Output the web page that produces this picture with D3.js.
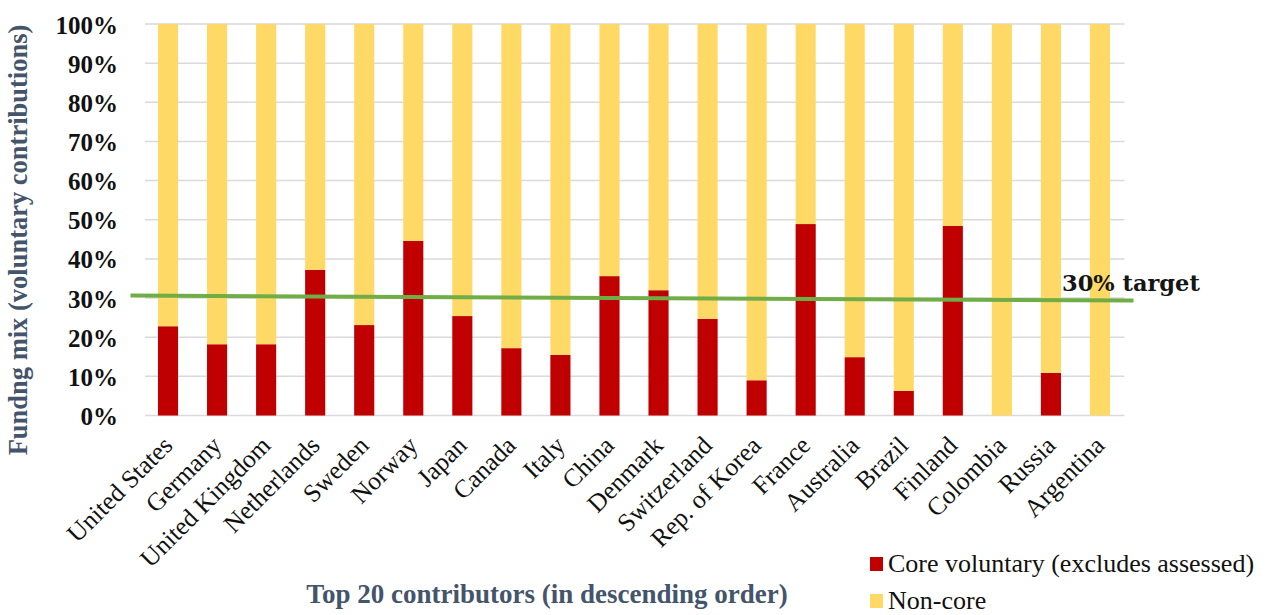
<!DOCTYPE html>
<html>
<head>
<meta charset="utf-8">
<script src="https://cdn.jsdelivr.net/npm/d3@7"></script>
<style>
  html, body { margin: 0; padding: 0; background: #fff; }
  svg { display: block; }
</style>
</head>
<body>
<svg id="chart" width="1266" height="615"></svg>
<script>
// Top 20 contributors, in descending order of total voluntary contributions
const countries = ["United States", "Germany", "United Kingdom", "Netherlands", "Sweden",
  "Norway", "Japan", "Canada", "Italy", "China", "Denmark", "Switzerland",
  "Rep. of Korea", "France", "Australia", "Brazil", "Finland", "Colombia", "Russia", "Argentina"];

// Share of core voluntary funding (%), remainder is non-core
const coreShare = [22.8, 18.2, 18.2, 37.2, 23.1, 44.6, 25.4, 17.2, 15.5, 35.6,
  32.0, 24.7, 9.0, 48.9, 14.9, 6.3, 48.4, 0, 10.9, 0];
const nonCoreShare = coreShare.map(v => 100 - v);

const yTicks = [0, 10, 20, 30, 40, 50, 60, 70, 80, 90, 100];
const target = 30;

const seriesNames = ["Core voluntary (excludes assessed)", "Non-core"];
const seriesColors = ["#C00000", "#FFD966"];

const SERIF = '"Liberation Serif", "Times New Roman", serif';

const svg = d3.select("#chart");

const x = d3.scaleBand().domain(countries).range([143.5, 1124.5]).paddingInner(0.59).paddingOuter(0.295);
const y = d3.scaleLinear().domain([0, 100]).range([415.5, 24]);

// gridlines
svg.append("g")
  .selectAll("line").data(yTicks).join("line")
  .attr("x1", 145).attr("x2", 1124.5)
  .attr("y1", d => y(d)).attr("y2", d => y(d))
  .attr("stroke", "#D9D9DE").attr("stroke-width", 1.5);

// y tick labels
const yAxis = d3.axisLeft(y).tickValues(yTicks).tickFormat(d => d + "%").tickSize(0).tickPadding(0);
const yg = svg.append("g").attr("transform", "translate(118,0)").call(yAxis);
yg.select(".domain").remove();
yg.selectAll("text")
  .style("font-family", SERIF)
  .style("font-size", "25px").style("font-weight", "bold").attr("fill", "#111")
  .attr("dy", "0.36em");

// stacked bars
const rows = countries.map((c, i) => ({ country: c, core: coreShare[i], noncore: nonCoreShare[i] }));
const stacked = d3.stack().keys(["core", "noncore"])(rows);

svg.append("g").selectAll("g").data(stacked).join("g")
  .attr("fill", (d, i) => seriesColors[i])
  .selectAll("rect").data(d => d).join("rect")
  .attr("x", d => x(d.data.country))
  .attr("width", x.bandwidth())
  .attr("y", d => y(d[1]))
  .attr("height", d => Math.max(0, y(d[0]) - y(d[1])));

// x labels, rotated 45 degrees
const xAxis = d3.axisBottom(x).tickSize(0).tickPadding(0);
const xg = svg.append("g").call(xAxis);
xg.select(".domain").remove();
xg.selectAll(".tick text")
  .style("font-family", SERIF)
  .style("font-size", "25.5px").attr("fill", "#111")
  .attr("text-anchor", "end")
  .attr("y", 0).attr("dy", 0)
  .attr("transform", "translate(6,447) rotate(-45)");

// 30% target line
const [r0, r1] = x.range();
const tgt = svg.append("g");
tgt.append("line")
  .attr("x1", r0 - 13).attr("x2", r1 + 9)
  .attr("y1", y(target)).attr("y2", y(target))
  .attr("stroke", "#70AD47").attr("stroke-width", 4)
  .attr("transform", `rotate(0.29, ${(r0 + r1) / 2}, ${y(target)})`);
tgt.append("text")
  .attr("x", 1062).attr("y", 291)
  .style("font-family", '"DejaVu Serif", serif').style("font-weight", "bold")
  .style("font-size", "22.5px").attr("fill", "#151515")
  .text(target + "% target");

// axis titles
svg.append("text")
  .attr("transform", "translate(27,240) rotate(-90)")
  .attr("text-anchor", "middle")
  .style("font-family", SERIF)
  .style("font-size", "26.5px").style("font-weight", "bold").attr("fill", "#44546A")
  .text("Fundng mix (voluntary contributions)");

svg.append("text")
  .attr("x", 547).attr("y", 603)
  .attr("text-anchor", "middle")
  .style("font-family", SERIF)
  .style("font-size", "27px").style("font-weight", "bold").attr("fill", "#44546A")
  .text("Top 20 contributors (in descending order)");

// legend
const legend = svg.append("g");
const legendY = [557, 594];
seriesNames.forEach((name, i) => {
  legend.append("rect")
    .attr("x", 870).attr("y", legendY[i]).attr("width", 13).attr("height", 14)
    .attr("fill", seriesColors[i]);
  legend.append("text")
    .attr("x", 888).attr("y", legendY[i] + 15)
    .style("font-family", SERIF)
    .style("font-size", "26px").attr("fill", "#111")
    .text(name);
});
</script>
</body>
</html>
